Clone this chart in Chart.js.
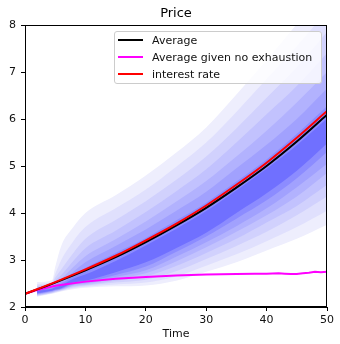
<!DOCTYPE html>
<html>
<head>
<meta charset="utf-8">
<script src="https://cdn.jsdelivr.net/npm/chart.js@4.4.0/dist/chart.umd.min.js"></script>
<style>
  body { margin: 0; background: #fff; }
  #wrap { position: relative; width: 340px; height: 344px; }
  #legend {
    position: absolute; left: 114px; top: 31px; width: 208px; height: 53px;
    box-sizing: border-box; border: 1px solid #cccccc; border-radius: 3px;
    background: rgba(255,255,255,0.8);
    font-family: "DejaVu Sans", sans-serif; font-size: 11px; color: #111;
  }
  #legend .row { height: 17px; line-height: 17px; white-space: nowrap; }
  #legend .sw { display: inline-block; width: 25px; height: 2px; margin: 0 9px 3px 3px; vertical-align: middle; }
</style>
</head>
<body>
<div id="wrap">
  <canvas id="canvas" width="340" height="344"></canvas>
  <div id="legend"></div>
</div>
<script>
// lines
let lineTimes = [0, 5, 10, 15, 20, 25, 30, 35, 40, 45, 50];
let average = [2.28, 2.52, 2.78, 3.06, 3.38, 3.73, 4.11, 4.54, 5.00, 5.52, 6.09];
let interest = [2.28, 2.53, 2.80, 3.09, 3.42, 3.77, 4.16, 4.60, 5.07, 5.60, 6.17];
let noExhTimes = [0, 2, 5, 10, 15, 20, 25, 30, 35, 38, 40, 42, 43, 44, 45, 46, 47, 48, 49, 50];
let noExh = [2.28, 2.36, 2.45, 2.54, 2.60, 2.64, 2.67, 2.69, 2.70, 2.71, 2.71, 2.72, 2.71, 2.70, 2.70, 2.72, 2.73, 2.75, 2.74, 2.75];

// density contour bands, outer -> inner
let bandTimes = [2, 4.5, 5, 6, 8, 10, 15, 20, 25, 30, 35, 40, 45, 50];
let bandLow1 = [2.22, 2.28, 2.30, 2.33, 2.38, 2.41, 2.44, 2.46, 2.56, 2.75, 2.95, 3.20, 3.45, 3.75];
let bandHigh1 = [2.53, 2.57, 2.85, 3.30, 3.70, 4.00, 4.38, 4.80, 5.28, 5.82, 6.52, 7.25, 8.02, 8.80];
let bandLow2 = [2.23, 2.29, 2.31, 2.34, 2.40, 2.43, 2.48, 2.52, 2.65, 2.88, 3.12, 3.40, 3.70, 4.05];
let bandHigh2 = [2.49, 2.53, 2.70, 3.00, 3.40, 3.70, 4.10, 4.50, 4.98, 5.50, 6.15, 6.85, 7.55, 8.30];
let bandLow3 = [2.24, 2.30, 2.32, 2.35, 2.42, 2.45, 2.52, 2.58, 2.76, 3.02, 3.30, 3.60, 3.95, 4.35];
let bandHigh3 = [2.46, 2.50, 2.62, 2.80, 3.15, 3.45, 3.85, 4.25, 4.70, 5.20, 5.80, 6.45, 7.10, 7.85];
let bandLow4 = [2.25, 2.31, 2.33, 2.36, 2.44, 2.47, 2.56, 2.65, 2.87, 3.15, 3.45, 3.80, 4.15, 4.60];
let bandHigh4 = [2.43, 2.47, 2.56, 2.68, 2.98, 3.25, 3.62, 4.02, 4.46, 4.93, 5.50, 6.10, 6.70, 7.40];
let bandLow5 = [2.26, 2.32, 2.34, 2.37, 2.46, 2.49, 2.60, 2.72, 2.97, 3.27, 3.60, 3.95, 4.35, 4.85];
let bandHigh5 = [2.41, 2.45, 2.51, 2.60, 2.85, 3.08, 3.44, 3.82, 4.24, 4.68, 5.20, 5.75, 6.35, 7.00];
let bandLow6 = [2.27, 2.33, 2.35, 2.38, 2.48, 2.51, 2.64, 2.78, 3.07, 3.38, 3.72, 4.10, 4.55, 5.05];
let bandHigh6 = [2.39, 2.43, 2.47, 2.54, 2.75, 2.95, 3.30, 3.65, 4.04, 4.45, 4.95, 5.45, 6.00, 6.65];
let bandLow7 = [2.28, 2.34, 2.36, 2.39, 2.50, 2.53, 2.68, 2.86, 3.17, 3.50, 3.88, 4.27, 4.74, 5.30];
let bandHigh7 = [2.37, 2.41, 2.44, 2.50, 2.66, 2.83, 3.15, 3.47, 3.84, 4.22, 4.67, 5.14, 5.68, 6.27];
let bandLow8 = [2.29, 2.35, 2.37, 2.40, 2.52, 2.56, 2.74, 2.95, 3.25, 3.58, 4.00, 4.42, 4.90, 5.48];
let bandHigh8 = [2.35, 2.39, 2.42, 2.46, 2.60, 2.69, 2.98, 3.31, 3.66, 4.04, 4.48, 4.94, 5.44, 6.01];
let bandColors = ['#eeeefd', '#e0e0fd', '#d1d1fd', '#c2c2fe', '#b2b2fe', '#a1a1fe', '#8c8cff', '#7070ff'];

let xTicks = [0, 10, 20, 30, 40, 50];
let yTicks = [2, 3, 4, 5, 6, 7, 8];

function pts(xs, ys){
  return xs.map(function(x, i){ return {x: x, y: ys[i]}; });
}

function buildDatasets(){
  let ds = [];
  ds.push({label: 'interest rate', data: pts(lineTimes, interest), borderColor: '#ff0000', borderWidth: 2, order: 0, cubicInterpolationMode: 'monotone'});
  ds.push({label: 'Average', data: pts(lineTimes, average), borderColor: '#000000', borderWidth: 2, order: 1, cubicInterpolationMode: 'monotone'});
  ds.push({label: 'Average given no exhaustion', data: pts(noExhTimes, noExh), borderColor: '#ff00ff', borderWidth: 2, order: 2});

  let lows = [bandLow1, bandLow2, bandLow3, bandLow4, bandLow5, bandLow6, bandLow7, bandLow8];
  let highs = [bandHigh1, bandHigh2, bandHigh3, bandHigh4, bandHigh5, bandHigh6, bandHigh7, bandHigh8];
  for (let k = 0; k < lows.length; k++) {
    ds.push({data: pts(bandTimes, lows[k]), borderWidth: 0, fill: false, order: 30 - k, cubicInterpolationMode: 'monotone'});
    ds.push({data: pts(bandTimes, highs[k]), borderWidth: 0, fill: '-1', backgroundColor: bandColors[k], order: 30 - k, cubicInterpolationMode: 'monotone'});
  }
  return ds;
}

let frame = {
  id: 'frame',
  afterDatasetsDraw: function(chart){
    let a = chart.chartArea;
    let c = chart.ctx;
    c.save();
    c.strokeStyle = '#000';
    c.lineWidth = 1;
    c.strokeRect(a.left + 0.5, a.top + 0.5, a.right - a.left - 1, a.bottom - a.top - 1);
    c.restore();
  }
};

function renderLegend(){
  let items = [['Average', '#000000'], ['Average given no exhaustion', '#ff00ff'], ['interest rate', '#ff0000']];
  let html = '';
  items.forEach(function(it){
    html += '<div class="row"><span class="sw" style="background:' + it[1] + '"></span>' + it[0] + '</div>';
  });
  document.getElementById('legend').innerHTML = html;
}

window.onload = function(){
  let font = {family: '"DejaVu Sans", sans-serif', size: 11};
  new Chart(document.getElementById('canvas'), {
    type: 'line',
    data: {datasets: buildDatasets()},
    plugins: [frame],
    options: {
      responsive: false,
      animation: false,
      layout: {padding: {top: 0, left: 0, right: 13, bottom: 0}},
      elements: {point: {radius: 0}, line: {tension: 0}},
      plugins: {
        legend: {display: false},
        tooltip: {enabled: false},
        title: {
          display: true, text: 'Price', fullSize: false, color: '#000',
          font: {family: '"DejaVu Sans", sans-serif', size: 13, weight: 'normal'},
          padding: {top: 6, bottom: 3.4}
        }
      },
      scales: {
        x: {
          type: 'linear', min: 0, max: 50,
          afterFit: function(s){ s.height = 37; },
          afterBuildTicks: function(s){ s.ticks = xTicks.map(function(v){ return {value: v}; }); },
          grid: {drawOnChartArea: false, tickLength: 4, color: '#000'},
          border: {color: '#000'},
          ticks: {font: font, color: '#111', padding: 3, maxRotation: 0},
          title: {display: true, text: 'Time', font: font, color: '#111', padding: {top: 0, bottom: 3}}
        },
        y: {
          min: 2, max: 8,
          afterFit: function(s){ s.width = 25; },
          afterBuildTicks: function(s){ s.ticks = yTicks.map(function(v){ return {value: v}; }); },
          grid: {drawOnChartArea: false, tickLength: 4, color: '#000'},
          border: {color: '#000'},
          ticks: {font: font, color: '#111', padding: 5}
        }
      }
    }
  });
  renderLegend();
};
</script>
</body>
</html>
